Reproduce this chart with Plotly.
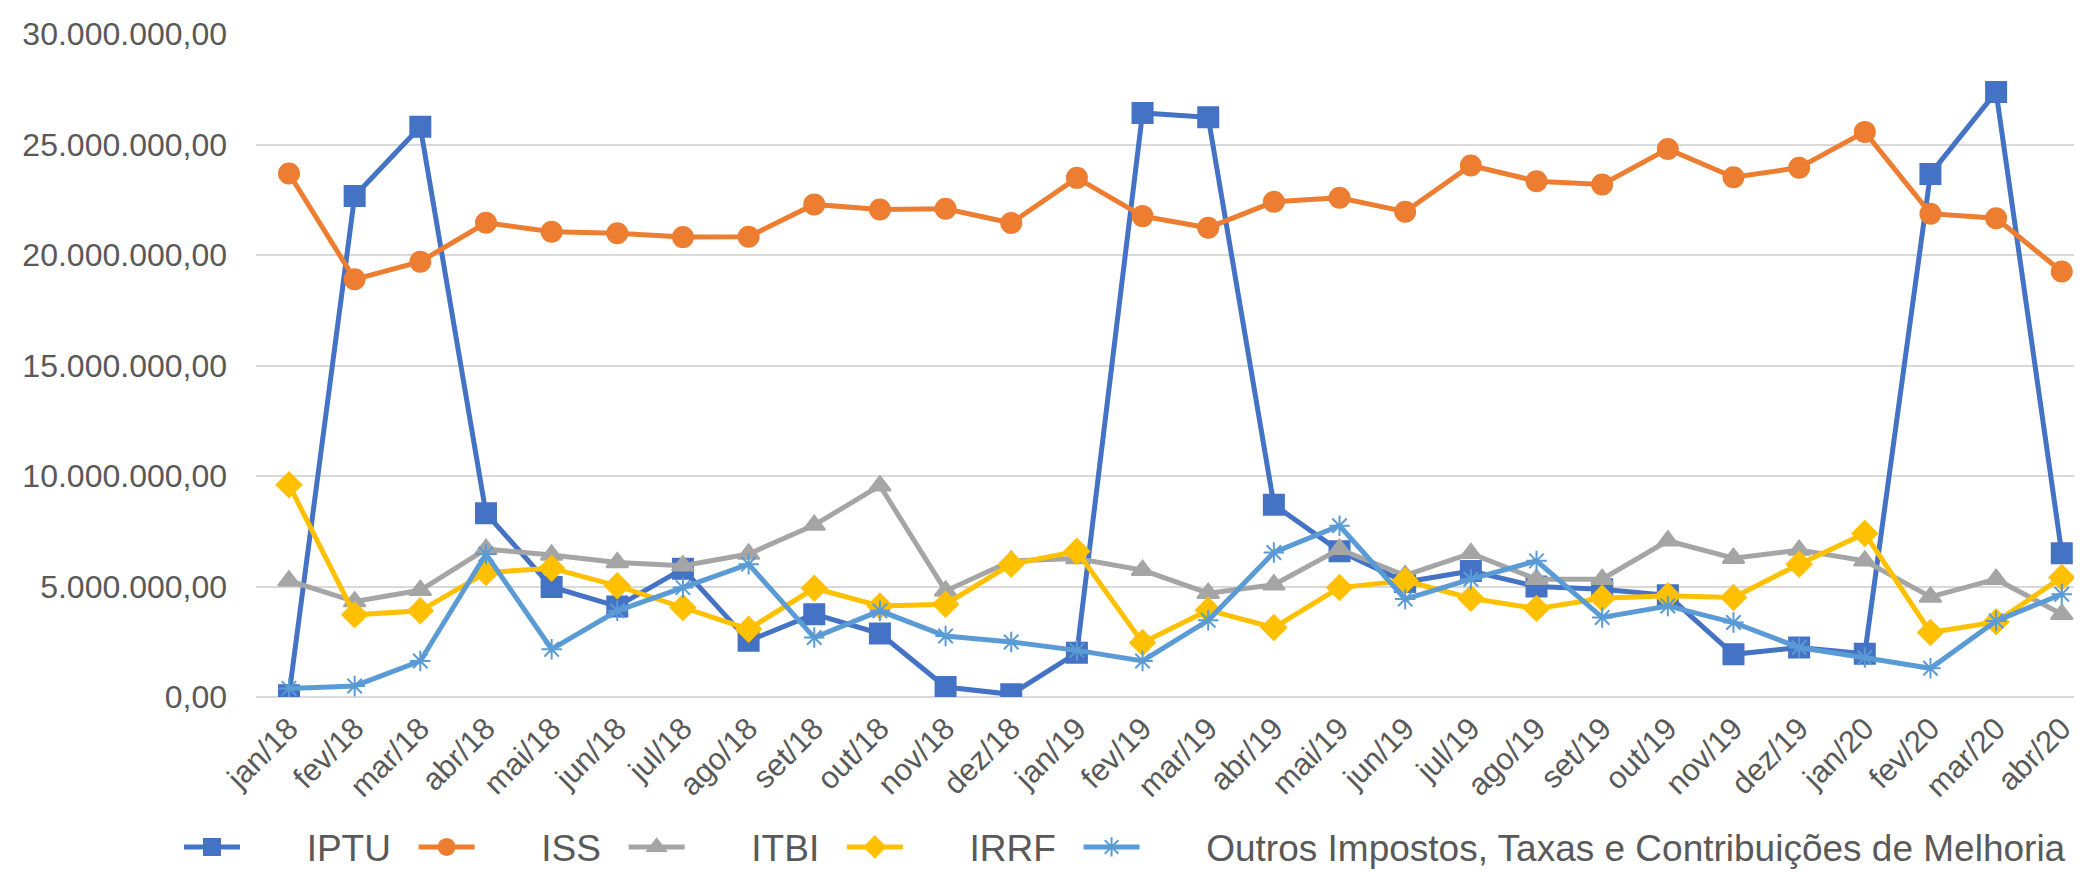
import plotly.graph_objects as go

months = ["jan/18","fev/18","mar/18","abr/18","mai/18","jun/18","jul/18","ago/18","set/18","out/18","nov/18","dez/18",
          "jan/19","fev/19","mar/19","abr/19","mai/19","jun/19","jul/19","ago/19","set/19","out/19","nov/19","dez/19",
          "jan/20","fev/20","mar/20","abr/20"]

iptu = [0.08, 22.67, 25.8, 8.31, 4.98, 4.1, 5.8, 2.54, 3.75, 2.87, 0.45, 0.12,
        2.0, 26.43, 26.23, 8.7, 6.6, 5.2, 5.7, 5.0, 4.88, 4.6, 1.93, 2.24,
        1.96, 23.67, 27.38, 6.5]
iss = [23.69, 18.9, 19.7, 21.46, 21.05, 20.98, 20.81, 20.83, 22.29, 22.06, 22.09, 21.45,
       23.49, 21.76, 21.23, 22.41, 22.59, 21.96, 24.05, 23.34, 23.19, 24.8, 23.52, 23.95,
       25.57, 21.87, 21.66, 19.25]
itbi = [5.26, 4.32, 4.83, 6.69, 6.43, 6.09, 5.94, 6.47, 7.78, 9.56, 4.8, 6.16,
        6.27, 5.74, 4.7, 5.08, 6.69, 5.5, 6.5, 5.33, 5.33, 7.07, 6.28, 6.65,
        6.16, 4.53, 5.33, 3.75]
irrf = [9.6, 3.72, 3.9, 5.63, 5.83, 5.03, 4.05, 3.07, 4.92, 4.12, 4.2, 6.01,
        6.59, 2.46, 3.93, 3.14, 4.95, 5.26, 4.47, 4.0, 4.47, 4.58, 4.5, 6.01,
        7.4, 2.92, 3.4, 5.41]
outros = [0.39, 0.5, 1.63, 6.47, 2.16, 3.9, 4.95, 6.01, 2.69, 3.9, 2.76, 2.49,
          2.11, 1.63, 3.47, 6.54, 7.75, 4.43, 5.33, 6.16, 3.6, 4.12, 3.37, 2.24,
          1.78, 1.3, 3.44, 4.65]

series_names = ["IPTU", "ISS", "ITBI", "IRRF", "Outros Impostos, Taxas e Contribuições de Melhoria"]
y_ticks = [0, 5e6, 10e6, 15e6, 20e6, 25e6, 30e6]

styles = [
    ("#4472C4", "square", 20),
    ("#ED7D31", "circle", 20),
    ("#A5A5A5", "triangle-up", 19),
    ("#FFC000", "diamond", 19),
    ("#5B9BD5", "asterisk-open", 17),
]

NB = "\u00a0"
x_idx = list(range(len(months)))
fig = go.Figure()
for k, (name, vals) in enumerate(zip(series_names, [iptu, iss, itbi, irrf, outros])):
    color, sym, size = styles[k]
    label = NB * 6 + name + ("" if k == len(series_names) - 1 else NB + "\u2009")
    fig.add_trace(go.Scatter(
        x=x_idx, y=[v * 1e6 for v in vals], name=label, mode="lines+markers",
        line=dict(color=color, width=5),
        marker=dict(symbol=sym, size=size, color=color, line=dict(color=color, width=2)),
    ))

font_family = "Liberation Sans, Arial, sans-serif"
fig.update_layout(
    width=2082, height=872,
    margin=dict(l=248, r=0, t=26, b=183, autoexpand=False),
    paper_bgcolor="white", plot_bgcolor="white",
    separators=",.",
    font=dict(family=font_family, color="#595959", size=32),
    showlegend=True,
    legend=dict(orientation="h", x=-0.042, xanchor="left", y=-0.18, yanchor="top",
                font=dict(size=37, color="#595959"), itemwidth=56,
                traceorder="normal", bgcolor="rgba(0,0,0,0)"),
    xaxis=dict(tickmode="array", tickvals=x_idx, ticktext=months, tickangle=-45,
               range=[-0.5025, 27.43], showgrid=False, zeroline=False, showline=False,
               tickfont=dict(size=31, color="#595959"), ticklabelstandoff=6,
               automargin=False),
    yaxis=dict(range=[0, 30e6], tickvals=y_ticks, tickformat=",.2f",
               showgrid=True, gridcolor="#D9D9D9", gridwidth=2,
               zeroline=True, zerolinecolor="#D9D9D9", zerolinewidth=2,
               showline=False, tickfont=dict(size=32, color="#595959"),
               ticklabelstandoff=28, automargin=False),
)
fig.write_html("out.html")
